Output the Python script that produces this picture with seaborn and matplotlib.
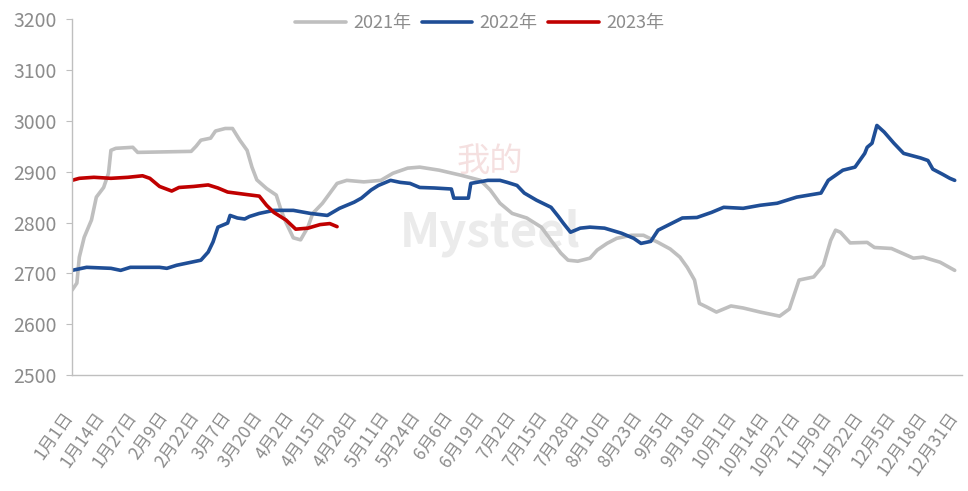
import matplotlib
matplotlib.use("Agg")
import matplotlib.pyplot as plt
import matplotlib.transforms as mtransforms
import seaborn as sns
import pandas as pd

# day of year (0 = 1月1日) and price
days_2021 = [0, 2, 3, 5, 8, 10, 13, 15, 16, 18, 25, 27, 49, 51, 53, 57, 59, 63, 66, 69,
             72, 74, 76, 80, 84, 86, 88, 91, 94, 97, 99, 103, 109, 113, 120, 127, 132, 138,
             143, 151, 160, 168, 172, 176, 181, 187, 193, 197, 201, 204, 208, 213, 216, 220,
             224, 230, 235, 241, 246, 250, 253, 256, 258, 261, 265, 271, 276, 283, 291, 295,
             299, 305, 309, 312, 314, 316, 320, 327, 330, 337, 346, 350, 357, 363]
vals_2021 = [2667, 2681, 2732, 2771, 2805, 2850, 2869, 2897, 2942, 2946, 2948, 2938, 2940,
             2950, 2962, 2966, 2980, 2985, 2985, 2962, 2942, 2909, 2884, 2867, 2854, 2824,
             2800, 2770, 2766, 2791, 2818, 2838, 2877, 2883, 2880, 2883, 2897, 2907, 2909,
             2903, 2893, 2883, 2864, 2838, 2818, 2809, 2791, 2765, 2740, 2726, 2724, 2730,
             2746, 2759, 2769, 2775, 2775, 2761, 2748, 2732, 2712, 2687, 2641, 2634, 2624,
             2636, 2632, 2624, 2616, 2630, 2687, 2693, 2716, 2765, 2785, 2781, 2760, 2761,
             2751, 2749, 2730, 2732, 2722, 2706]

days_2022 = [0, 6, 16, 20, 24, 36, 39, 43, 49, 53, 56, 58, 60, 64, 65, 68, 71, 73, 77, 83,
             91, 98, 105, 110, 116, 119, 123, 126, 131, 135, 139, 143, 149, 156, 157, 163,
             164, 171, 176, 179, 183, 186, 191, 197, 200, 202, 205, 209, 213, 219, 226, 231,
             234, 238, 241, 246, 251, 257, 263, 268, 276, 283, 290, 298, 308, 311, 317, 322,
             326, 327, 329, 331, 334, 338, 342, 349, 352, 354, 358, 361, 363]
vals_2022 = [2706, 2712, 2710, 2706, 2712, 2712, 2710, 2716, 2722, 2726, 2742, 2762, 2791,
             2799, 2814, 2809, 2807, 2812, 2818, 2824, 2824, 2818, 2814, 2828, 2840, 2848,
             2864, 2873, 2883, 2879, 2877, 2869, 2868, 2866, 2848, 2848, 2877, 2883, 2883,
             2879, 2873, 2858, 2844, 2830, 2812, 2799, 2781, 2789, 2791, 2789, 2779, 2769,
             2759, 2763, 2785, 2797, 2809, 2810, 2820, 2830, 2828, 2834, 2838, 2850, 2858,
             2883, 2903, 2909, 2936, 2948, 2956, 2991, 2978, 2956, 2936, 2927, 2922, 2905,
             2895, 2887, 2883]

days_2023 = [0, 3, 9, 16, 23, 29, 32, 36, 41, 44, 50, 56, 60, 64, 72, 77, 80, 83, 88, 92,
             97, 102, 106, 109]
vals_2023 = [2883, 2887, 2889, 2887, 2889, 2892, 2887, 2871, 2862, 2869, 2871, 2874, 2868,
             2860, 2855, 2852, 2834, 2820, 2805, 2787, 2789, 2796, 2798, 2792]

series_names = ["2021年", "2022年", "2023年"]
colors = ["#BFBFBF", "#1F4E96", "#C00000"]

tick_days = [0, 13, 26, 39, 52, 65, 78, 91, 104, 117, 130, 143, 156, 169, 182, 195, 208,
             221, 234, 247, 260, 273, 286, 299, 312, 325, 338, 351, 364]
tick_labels = ["1月1日", "1月14日", "1月27日", "2月9日", "2月22日", "3月7日", "3月20日",
               "4月2日", "4月15日", "4月28日", "5月11日", "5月24日", "6月6日", "6月19日",
               "7月2日", "7月15日", "7月28日", "8月10日", "8月23日", "9月5日", "9月18日",
               "10月1日", "10月14日", "10月27日", "11月9日", "11月22日", "12月5日",
               "12月18日", "12月31日"]

frames = []
for name, d, v in zip(series_names, [days_2021, days_2022, days_2023],
                      [vals_2021, vals_2022, vals_2023]):
    frames.append(pd.DataFrame({"day": d, "price": v, "year": name}))
df = pd.concat(frames, ignore_index=True)

sns.set_style("white")
plt.rcParams['font.family'] = ['Noto Sans CJK SC', 'DejaVu Sans']

fig = plt.figure(figsize=(9.68, 4.91), dpi=100)
ax = fig.add_axes([0.0744, 0.236, 0.9194, 0.725])

sns.lineplot(data=df, x="day", y="price", hue="year", palette=colors,
             hue_order=series_names, linewidth=2.6, ax=ax, estimator=None, sort=False)

# faint watermark
ax.text(0.47, 0.40, "Mysteel", transform=ax.transAxes, fontsize=34, color="#EBEBEB",
        ha="center", va="center", zorder=0, fontweight="bold")
ax.text(0.47, 0.60, "我的", transform=ax.transAxes, fontsize=24, color="#F5E0E0",
        ha="center", va="center", zorder=0)

ax.set_xlim(0, 366)
ax.set_ylim(2500, 3200)
ax.set_yticks(range(2500, 3201, 100))
ax.set_xticks(tick_days)
ax.set_xticklabels(tick_labels, rotation=55, ha="right", va="top")
ax.set_xticks(range(0, 351, 25), minor=True)
ax.tick_params(axis="x", which="major", length=0, pad=24, labelsize=12.5, labelcolor="#8C8C8C")
ax.tick_params(axis="x", which="minor", length=5, color="#BFBFBF", direction="out")
ax.tick_params(axis="y", length=4, color="#BFBFBF", labelsize=14, labelcolor="#8C8C8C",
               left=True, pad=7)
# nudge the date labels a little to the right, as in the original
shift = mtransforms.ScaledTranslation(5 / 100, 0, fig.dpi_scale_trans)
for lab in ax.get_xticklabels():
    lab.set_transform(lab.get_transform() + shift)
ax.set_xlabel("")
ax.set_ylabel("")
for s in ["top", "right"]:
    ax.spines[s].set_visible(False)
for s in ["left", "bottom"]:
    ax.spines[s].set_color("#BFBFBF")
    ax.spines[s].set_linewidth(1)

leg = ax.legend(loc="upper center", bbox_to_anchor=(0.458, 1.06), ncol=3, frameon=False,
                fontsize=13, handlelength=2.8, columnspacing=0.6, handletextpad=0.4)
for t in leg.get_texts():
    t.set_color("#8C8C8C")

plt.savefig("out.png", dpi=100)
plt.close()
